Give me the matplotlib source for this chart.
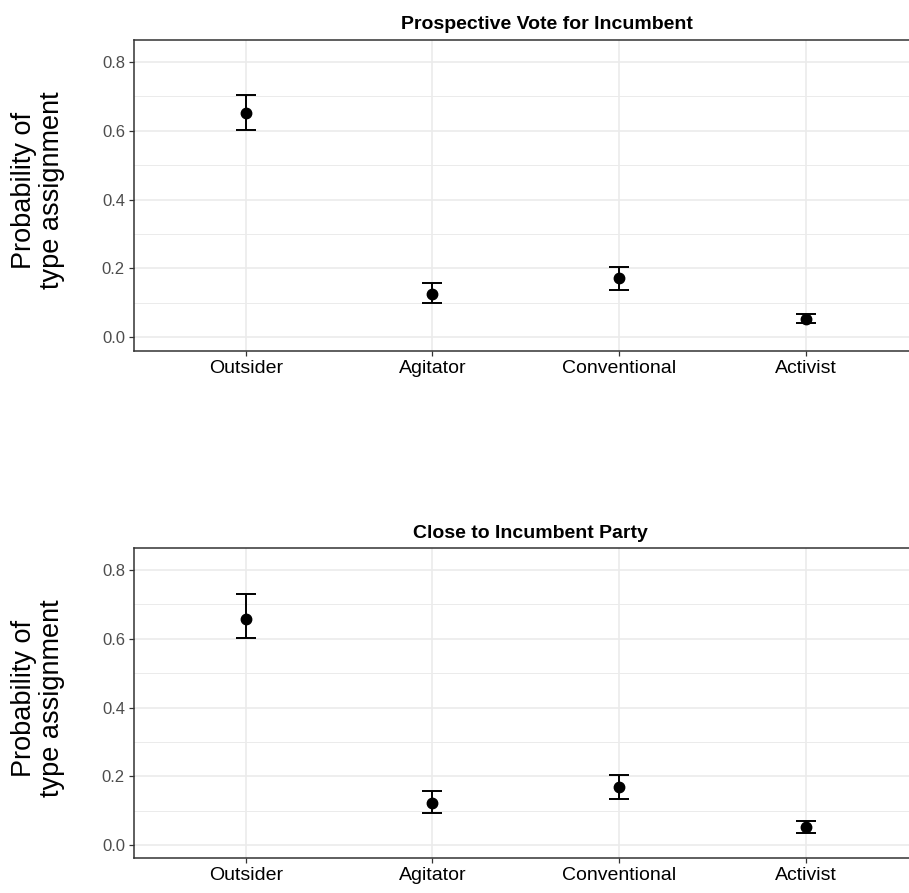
import numpy as np
import matplotlib.pyplot as plt
from matplotlib.ticker import MultipleLocator

plt.rcParams['font.family'] = ['Liberation Sans', 'DejaVu Sans']

types = ["Outsider", "Agitator", "Conventional", "Activist"]

# predicted probability of type assignment with interval bounds
vote_est = [0.651, 0.127, 0.171, 0.054]
vote_lo = [0.601, 0.101, 0.138, 0.041]
vote_hi = [0.702, 0.159, 0.203, 0.068]

party_est = [0.658, 0.121, 0.169, 0.053]
party_lo = [0.601, 0.092, 0.133, 0.035]
party_hi = [0.730, 0.157, 0.204, 0.069]

y_ticks = [0.0, 0.2, 0.4, 0.6, 0.8]


def draw_panel(ax, est, lo, hi):
    x = np.arange(1, len(types) + 1)
    est = np.array(est)
    err = [est - np.array(lo), np.array(hi) - est]
    ax.set_axisbelow(True)
    ax.yaxis.set_minor_locator(MultipleLocator(0.1))
    ax.grid(which='major', color='#EBEBEB', linewidth=1.2)
    ax.grid(which='minor', axis='y', color='#EBEBEB', linewidth=0.7)
    ax.errorbar(x, est, yerr=err, fmt='o', color='black', markersize=7.5,
                capsize=7, elinewidth=1.4, capthick=1.4)
    ax.set_xticks(x)
    ax.set_xticklabels(types, fontsize=14, color='black')
    ax.set_yticks(y_ticks)
    ax.set_yticklabels([f"{v:.1f}" for v in y_ticks], fontsize=12, color='#4D4D4D')
    ax.set_xlim(0.4, 4.6)
    ax.set_ylim(-0.0385, 0.863)
    ax.tick_params(which='major', length=3.5, width=0.9, color='#333333', pad=3)
    ax.tick_params(which='minor', length=0)
    for s in ax.spines.values():
        s.set_color('#333333')
        s.set_linewidth(1.1)


fig = plt.figure(figsize=(9.09, 8.93), dpi=100)

ax1 = fig.add_axes([0.1474, 0.6073, 0.862, 0.348])
draw_panel(ax1, vote_est, vote_lo, vote_hi)
ax2 = fig.add_axes([0.1474, 0.0389, 0.862, 0.347])
draw_panel(ax2, party_est, party_lo, party_hi)

fig.text(547 / 909, 1 - 29 / 893, "Prospective Vote for Incumbent",
         ha='center', va='baseline', fontsize=14, fontweight='bold')
fig.text(530 / 909, 1 - 538 / 893, "Close to Incumbent Party",
         ha='center', va='baseline', fontsize=14, fontweight='bold')

for ax in (ax1, ax2):
    pos = ax.get_position()
    fig.text(38 / 909, pos.y0 + pos.height / 2 + 0.006, "Probability of\ntype assignment",
             rotation=90, ha='center', va='center', multialignment='center',
             fontsize=19.5, linespacing=1.1)

fig.savefig("out.png", dpi=100)
